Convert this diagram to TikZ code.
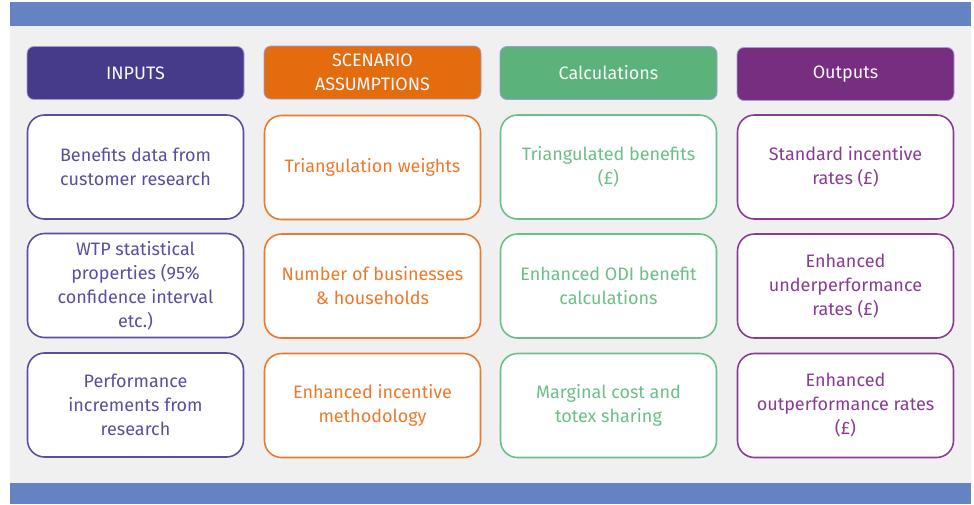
\documentclass[tikz,border=0pt]{standalone}
\usepackage{fontspec}
\setmainfont{Fira Sans}

\definecolor{barblue}{HTML}{6483C2}
\definecolor{panelgrey}{HTML}{F0F0F0}
\definecolor{inpurple}{HTML}{463B8B}
\definecolor{scorange}{HTML}{E36C0E}
\definecolor{calcgreen}{HTML}{5BB37A}
\definecolor{outpurple}{HTML}{782E80}
\definecolor{headline}{HTML}{A09CDA}
\definecolor{intext}{HTML}{5A4F9F}
\definecolor{sctext}{HTML}{EA7A2C}
\definecolor{calctext}{HTML}{6CBF88}
\definecolor{outtext}{HTML}{8A3B94}

\begin{document}
\begin{tikzpicture}[x=1pt, y=-1pt,
	every node/.style={font=\fontsize{18}{24}\selectfont, align=center, inner sep=0pt},
	head/.style={rounded corners=7pt, draw=headline, line width=0.8pt, text=white!94!headline,
		minimum width=217pt, minimum height=53pt},
	cell/.style={rounded corners=17pt, fill=white, line width=1.6pt,
		minimum width=216pt, minimum height=104pt}]

				\useasboundingbox (0,0) rectangle (974,504);
				% backdrop and the two bars
				\fill[panelgrey] (10,26) rectangle (971,483);
				\fill[barblue] (10,2) rectangle (971,26);
				\fill[barblue] (10,483) rectangle (971,504);

				% column heads
				\node[head, fill=inpurple] (inputs) at (135.5,73) {INPUTS};
				\node[head, fill=scorange] (scenario) at (372.5,72.5) {SCENARIO\\ASSUMPTIONS};
				\node[head, fill=calcgreen] (calcs) at (608.5,73) {Calculations};
				\node[head, fill=outpurple] (outputs) at (845.5,74) {Outputs};

				% inputs
				\node[cell, draw=intext, text=intext] (benefits) at (135.5,167) {Benefits data from\\customer research};
				\node[cell, draw=intext, text=intext] (wtp) at (135.5,285.5) {WTP statistical\\properties (95\%\\confidence interval\\etc.)};
				\node[cell, draw=intext, text=intext] (increments) at (135.5,405) {Performance\\increments from\\research};

				% scenario assumptions
				\node[cell, draw=sctext, text=sctext] (weights) at (372.5,167.5) {Triangulation weights};
				\node[cell, draw=sctext, text=sctext] (households) at (372.5,286) {Number of businesses\\\& households};
				\node[cell, draw=sctext, text=sctext] (method) at (372.5,405.5) {Enhanced incentive\\methodology};

				% calculations
				\node[cell, draw=calctext, text=calctext] (triangulated) at (608.5,167) {Triangulated benefits\\(£)};
				\node[cell, draw=calctext, text=calctext] (odi) at (608.5,286) {Enhanced ODI benefit\\calculations};
				\node[cell, draw=calctext, text=calctext] (totex) at (608.5,405.5) {Marginal cost and\\totex sharing};

				% outputs
				\node[cell, draw=outtext, text=outtext] (standard) at (845.5,167) {Standard incentive\\rates (£)};
				\node[cell, draw=outtext, text=outtext] (under) at (845.5,286) {Enhanced\\underperformance\\rates (£)};
				\node[cell, draw=outtext, text=outtext] (out) at (845.5,405.5) {Enhanced\\outperformance rates\\(£)};
			\end{tikzpicture}
\end{document}
